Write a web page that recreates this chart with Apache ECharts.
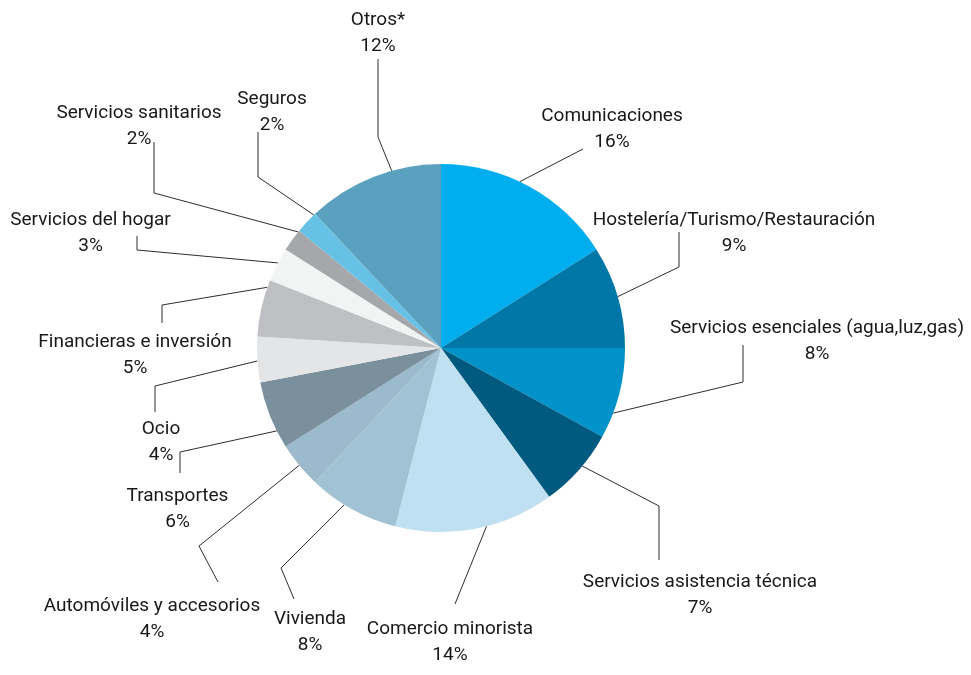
<!DOCTYPE html>
<html>
<head>
<meta charset="utf-8">
<script src="https://cdn.jsdelivr.net/npm/echarts@6/dist/echarts.min.js"></script>
<style>
html,body{margin:0;padding:0;background:#fff;}
#chart{width:971px;height:675px;}
</style>
</head>
<body>
<div id="chart"></div>
<script>
// Data
const categories = [
  'Comunicaciones',
  'Hostelería/Turismo/Restauración',
  'Servicios esenciales (agua,luz,gas)',
  'Servicios asistencia técnica',
  'Comercio minorista',
  'Vivienda',
  'Automóviles y accesorios',
  'Transportes',
  'Ocio',
  'Financieras e inversión',
  'Servicios del hogar',
  'Servicios sanitarios',
  'Seguros',
  'Otros*'
];
const values = [16, 9, 8, 7, 14, 8, 4, 6, 4, 5, 3, 2, 2, 12];
const colors = ['#00AEEF','#0077A6','#0092C8','#00597E','#BEE0F0','#A0C2D2','#9BBACB','#7A909C','#E4E5E7','#BFC0C4','#F2F3F3','#A6A7AB','#66C1E4','#5AA1C0'];

// Label layout (block centres), leader-line attach position within slice, and elbow/end points
const labelPos = [
  [612,129.5],[734,233.5],[817,341.5],[700,595],[450,642.5],[310,632.5],[152,619],
  [177.5,509],[161,442],[135,355],[90.5,233.5],[139,126],[272,112],[378,33]
];
const attachFrac = [0.44,0.5,0.72,0.44,0.43,0.6,0.5,0.26,0.47,0.87,0.55,0.93,0.93,0.64];
const lineTail = [
  [[583,149],[583,149]],
  [[679,267],[679,232]],
  [[743,382],[743,345]],
  [[659,506],[659,560]],
  [[455,604],[455,604]],
  [[281,568],[294,599]],
  [[199,546],[218,582]],
  [[180,452],[180,473]],
  [[155,386],[155,412]],
  [[162,305],[162,323]],
  [[137,250],[137,236]],
  [[154,193],[154,142]],
  [[258,177],[258,132]],
  [[378,137],[378,59]]
];

const CX = 441, CY = 348, R = 184;
const total = values.reduce((a,b)=>a+b,0);
function edgePoint(i){
  let acc = 0;
  for (let j=0;j<i;j++) acc += values[j];
  const a = (acc + values[i]*attachFrac[i]) / total * Math.PI * 2;
  return [CX + R*Math.sin(a), CY - R*Math.cos(a)];
}

const chart = echarts.init(document.getElementById('chart'), null, {renderer:'canvas'});
chart.setOption({
  animation: false,
  backgroundColor: '#ffffff',
  series: [{
    type: 'pie',
    center: [CX, CY],
    radius: R,
    startAngle: 90,
    clockwise: true,
    silent: true,
    itemStyle: { borderWidth: 0 },
    data: categories.map((n,i)=>({name:n, value:values[i], itemStyle:{color:colors[i]}})),
    label: {
      show: true,
      position: 'outside',
      formatter: p => p.name + '\n' + p.value + '%',
      fontFamily: 'Roboto, "DejaVu Sans Condensed", sans-serif',
      fontSize: 19,
      lineHeight: 26,
      color: '#1A1718',
      align: 'center',
      width: 420,
      overflow: 'none'
    },
    labelLine: {
      show: true,
      lineStyle: { color: '#2E2E2E', width: 1 }
    },
    labelLayout: function (params) {
      const i = params.dataIndex;
      const p0 = edgePoint(i);
      return {
        x: labelPos[i][0],
        y: labelPos[i][1],
        align: 'center',
        verticalAlign: 'middle',
        labelLinePoints: [p0, lineTail[i][0], lineTail[i][1]]
      };
    }
  }]
});
</script>
</body>
</html>
